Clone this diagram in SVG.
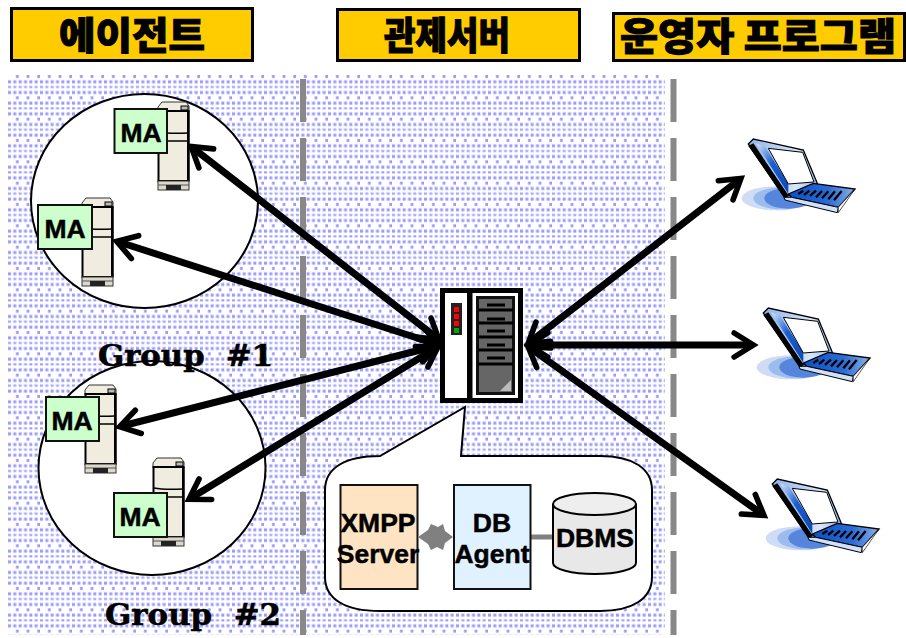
<svg xmlns="http://www.w3.org/2000/svg" width="906" height="638" viewBox="0 0 906 638">
<style>
.title{fill:#fc0;stroke:#000;stroke-width:3}
.tt{font-family:"Noto Sans CJK KR","Noto Sans",sans-serif;font-weight:900;font-size:38px;fill:#000;stroke:#000;stroke-width:1;text-anchor:middle}
.grp{font-family:"DejaVu Serif",serif;font-weight:700;font-size:29px;fill:#000;stroke:#000;stroke-width:.6;white-space:pre}
.lb{font-family:"Liberation Sans",Arial,sans-serif;font-weight:700;font-size:26.500px;fill:#000;stroke:#000;stroke-width:.5;text-anchor:middle}
.ma{fill:#cfc;stroke:#111;stroke-width:2}
.div{stroke:#888;stroke-width:6;stroke-dasharray:43 16;fill:none}
.arr{stroke:#000;stroke-width:7;fill:none;marker-start:url(#h);marker-end:url(#h)}
.circ{fill:#fff;stroke:#000;stroke-width:2}
.box{stroke:#111;stroke-width:2}
</style>
<defs>
<pattern id="dots" patternUnits="userSpaceOnUse" x="8" y="75" width="10.667" height="21.333">
<rect width="10.667" height="21.333" fill="#fff"/>
<rect x="8" y="0" width="3" height="3" fill="#99f"/>
<rect x="0" y="5.33" width="3" height="3" fill="#99f"/>
<rect x="5.33" y="5.33" width="3" height="3" fill="#99f"/>
<rect x="0" y="11" width="3" height="2" fill="#99f"/>
<rect x="5.33" y="11" width="3" height="2" fill="#99f"/>
<rect x="0" y="16" width="3" height="3" fill="#99f"/>
<rect x="5.33" y="16" width="3" height="3" fill="#99f"/>
</pattern>
<marker id="h" markerUnits="userSpaceOnUse" orient="auto-start-reverse" markerWidth="40" markerHeight="40" refX="-3" refY="0" viewBox="-40 -20 50 40" overflow="visible">
<path d="M-24,-15 L0,0 L-24,15" fill="none" stroke="#000" stroke-width="7" stroke-linecap="round" stroke-linejoin="miter"/>
</marker>
<linearGradient id="lid" x1="0" y1="0" x2="1" y2="1"><stop offset="0" stop-color="#dce8fa"/><stop offset=".45" stop-color="#1a5fd0"/><stop offset="1" stop-color="#0a48b8"/></linearGradient>
<linearGradient id="rim" x1="0" y1="0" x2="1" y2="0"><stop offset="0" stop-color="#8fb2ea"/><stop offset=".7" stop-color="#d8e6fa"/><stop offset="1" stop-color="#8fb2ea"/></linearGradient>
<linearGradient id="kb" x1="0" y1="0" x2="1" y2="0"><stop offset="0" stop-color="#0a50c8"/><stop offset=".6" stop-color="#2a6cd4"/><stop offset="1" stop-color="#8ab0ea"/></linearGradient>
<g id="srv">
<path d="M1,6 L5,1 H29 L32,5 V11 H1 Z" fill="#f0ece0" stroke="#333" stroke-width="1"/>
<rect x="24" y="5" width="7" height="4" fill="#bbb" stroke="#000" stroke-width="1"/>
<rect x="1.500" y="10" width="30" height="70" fill="#f0ece0" stroke="#000" stroke-width="2"/>
<rect x="30" y="10" width="2.500" height="70" fill="#000"/>
<path d="M2,31 Q12,33 31,32 M2,40 H31" fill="none" stroke="#000" stroke-width="1.500"/>
<rect x="1" y="80" width="31" height="9" fill="#ddd8cc" stroke="#333" stroke-width="1"/>
<path d="M1,84 H32" stroke="#555" stroke-width="1"/>
<rect x="9" y="84" width="15" height="5" fill="#222"/>
</g>
<g id="lap" transform="scale(.3333)">
<ellipse cx="170" cy="235" rx="105" ry="36" fill="#cfdcf5"/>
<ellipse cx="185" cy="235" rx="85" ry="33" fill="#9dbcee"/>
<ellipse cx="205" cy="235" rx="72" ry="31" fill="#5585dc"/>
<path d="M85,72 L100,57 L250,90 L292,190 L205,225 L195,235 Z" fill="url(#rim)" stroke="#000" stroke-width="4"/>
<path d="M85,78 L195,235 L205,225 L100,70 Z" fill="#000"/>
<path d="M108,70 L135,80 L205,190 L205,222 Z" fill="url(#lid)"/>
<path d="M145,85 L248,97 L282,186 L205,192 Z" fill="#fff" stroke="#000" stroke-width="3"/>
<path d="M205,222 L280,190 L405,207 L355,262 L215,232 Z" fill="url(#kb)" stroke="#000" stroke-width="4"/>
<path d="M235,222 L250,212 M252,225 L268,212 M270,228 L288,212 M288,232 L306,213 M306,235 L325,214 M325,238 L345,214 M342,241 L365,213" stroke="#000" stroke-width="7"/>
<path d="M215,232 L355,262 L352,278 L215,245 L195,240 L192,232 Z" fill="#cfe0f8" stroke="#000" stroke-width="3"/>
<path d="M355,262 L405,207 L355,278 Z" fill="#fff" stroke="#000" stroke-width="2"/>
</g>
</defs>

<g id="title-agent"><rect class="title" x="11.500" y="8.500" width="241" height="52"/><text class="tt" x="132" y="49" textLength="146" lengthAdjust="spacingAndGlyphs">에이전트</text></g>
<g id="title-server"><rect class="title" x="337.500" y="9.500" width="242" height="51"/><text class="tt" x="447" y="49" textLength="126" lengthAdjust="spacingAndGlyphs">관제서버</text></g>
<g id="title-operator"><rect class="title" x="613.500" y="13.500" width="291" height="47"/><text class="tt" x="758" y="50" textLength="276" lengthAdjust="spacingAndGlyphs" xml:space="preserve">운영자 프로그램</text></g>

<rect id="background" x="8" y="74" width="657" height="561" fill="url(#dots)"/>

<g id="group1"><ellipse class="circ" cx="144.500" cy="201" rx="113.500" ry="107"/></g>
<g id="group2"><ellipse class="circ" cx="152" cy="468" rx="113.500" ry="107"/></g>
<line class="div" x1="303" y1="79" x2="303" y2="635"/>
<line class="div" x1="673.500" y1="79" x2="673.500" y2="635"/>

<text id="label-group1" class="grp" x="98" y="366" textLength="175" lengthAdjust="spacingAndGlyphs" xml:space="preserve">Group  #1</text>
<text id="label-group2" class="grp" x="105" y="625" textLength="176" lengthAdjust="spacingAndGlyphs" xml:space="preserve">Group  #2</text>

<g id="agent1"><use href="#srv" x="157" y="101"/><rect class="ma" x="114.500" y="109" width="52.500" height="44"/><text class="lb" x="141" y="142">MA</text></g>
<g id="agent2"><use href="#srv" x="81" y="197"/><rect class="ma" x="38" y="205" width="54" height="44"/><text class="lb" x="65" y="238">MA</text></g>
<g id="agent3"><use href="#srv" x="84" y="384"/><rect class="ma" x="46" y="397" width="53" height="44"/><text class="lb" x="72" y="430">MA</text></g>
<g id="agent4"><use href="#srv" x="152" y="457"/><rect class="ma" x="114" y="493" width="53" height="44"/><text class="lb" x="140" y="526">MA</text></g>

<g id="central-server">
<rect x="442.500" y="290.500" width="78" height="110" fill="#fff" stroke="#000" stroke-width="5"/>
<rect x="467" y="290" width="5.500" height="111" fill="#000"/>
<rect x="451" y="303" width="11" height="32" fill="#222"/>
<rect x="454" y="307" width="5" height="5" fill="#f00"/><rect x="454" y="314" width="5" height="5" fill="#f00"/><rect x="454" y="321" width="5" height="5" fill="#f00"/><rect x="454" y="328" width="5" height="5" fill="#0a0"/>
<rect x="477.500" y="297.500" width="36" height="96" fill="#666" stroke="#111" stroke-width="3"/>
<path d="M478,310 H513 M478,323 H513 M478,337 H513 M478,350 H513 M478,364 H513" stroke="#000" stroke-width="3"/>
<path d="M487,305 H505 M487,319 H505 M487,331 H505 M487,345 H505 M487,358 H505" stroke="#000" stroke-width="3"/>
<path d="M500,391 L511,380 V391 Z" fill="#bbb"/>
</g>

<g id="connectors">
<line class="arr" x1="193" y1="148" x2="437" y2="338"/>
<line class="arr" x1="119" y1="242" x2="436" y2="344"/>
<line class="arr" x1="122" y1="426" x2="436" y2="346"/>
<line class="arr" x1="191" y1="498" x2="436" y2="348"/>
<line class="arr" x1="530" y1="342" x2="739" y2="180"/>
<line class="arr" x1="531" y1="345" x2="751" y2="345"/>
<line class="arr" x1="530" y1="348" x2="762" y2="514"/>
</g>

<g id="callout">
<path d="M465,407 L461,456 H600 C632,456 652,468 652,490 V577 C652,599 632,611 600,611 H380 C345,611 325,599 325,577 V490 C325,468 345,456 380,456 Z" fill="#fff" stroke="#000" stroke-width="2"/>
</g>
<g id="xmpp"><rect class="box" x="340.500" y="485" width="77" height="104" fill="#ffe4c4"/><text class="lb" x="378" y="532">XMPP</text><text class="lb" x="378" y="563">Server</text></g>
<g id="star-link"><path d="M418,537 L428,530 L431,524 L438,527 L443,524 L445,531 L453,537 L445,543 L443,550 L437,547 L431,550 L428,544 Z" fill="#808080"/></g>
<line id="link-db" x1="530" y1="537" x2="554" y2="537" stroke="#808080" stroke-width="5"/>
<g id="db-agent"><rect class="box" x="454" y="485" width="76.500" height="104" fill="#e0f2ff"/><text class="lb" x="492" y="532">DB</text><text class="lb" x="492" y="563">Agent</text></g>
<g id="dbms">
<path d="M553,504 V563 A41.500,11 0 0 0 636,563 V504" fill="#e8e8e8" stroke="#000" stroke-width="2"/>
<ellipse cx="594.500" cy="504" rx="41.500" ry="11" fill="#eee" stroke="#000" stroke-width="2"/>
<text class="lb" x="595" y="547">DBMS</text>
</g>

<g id="laptop1" transform="translate(720 120)"><use href="#lap"/></g>
<g id="laptop2" transform="translate(735 289)"><use href="#lap"/></g>
<g id="laptop3" transform="translate(744 460)"><use href="#lap"/></g>
</svg>
